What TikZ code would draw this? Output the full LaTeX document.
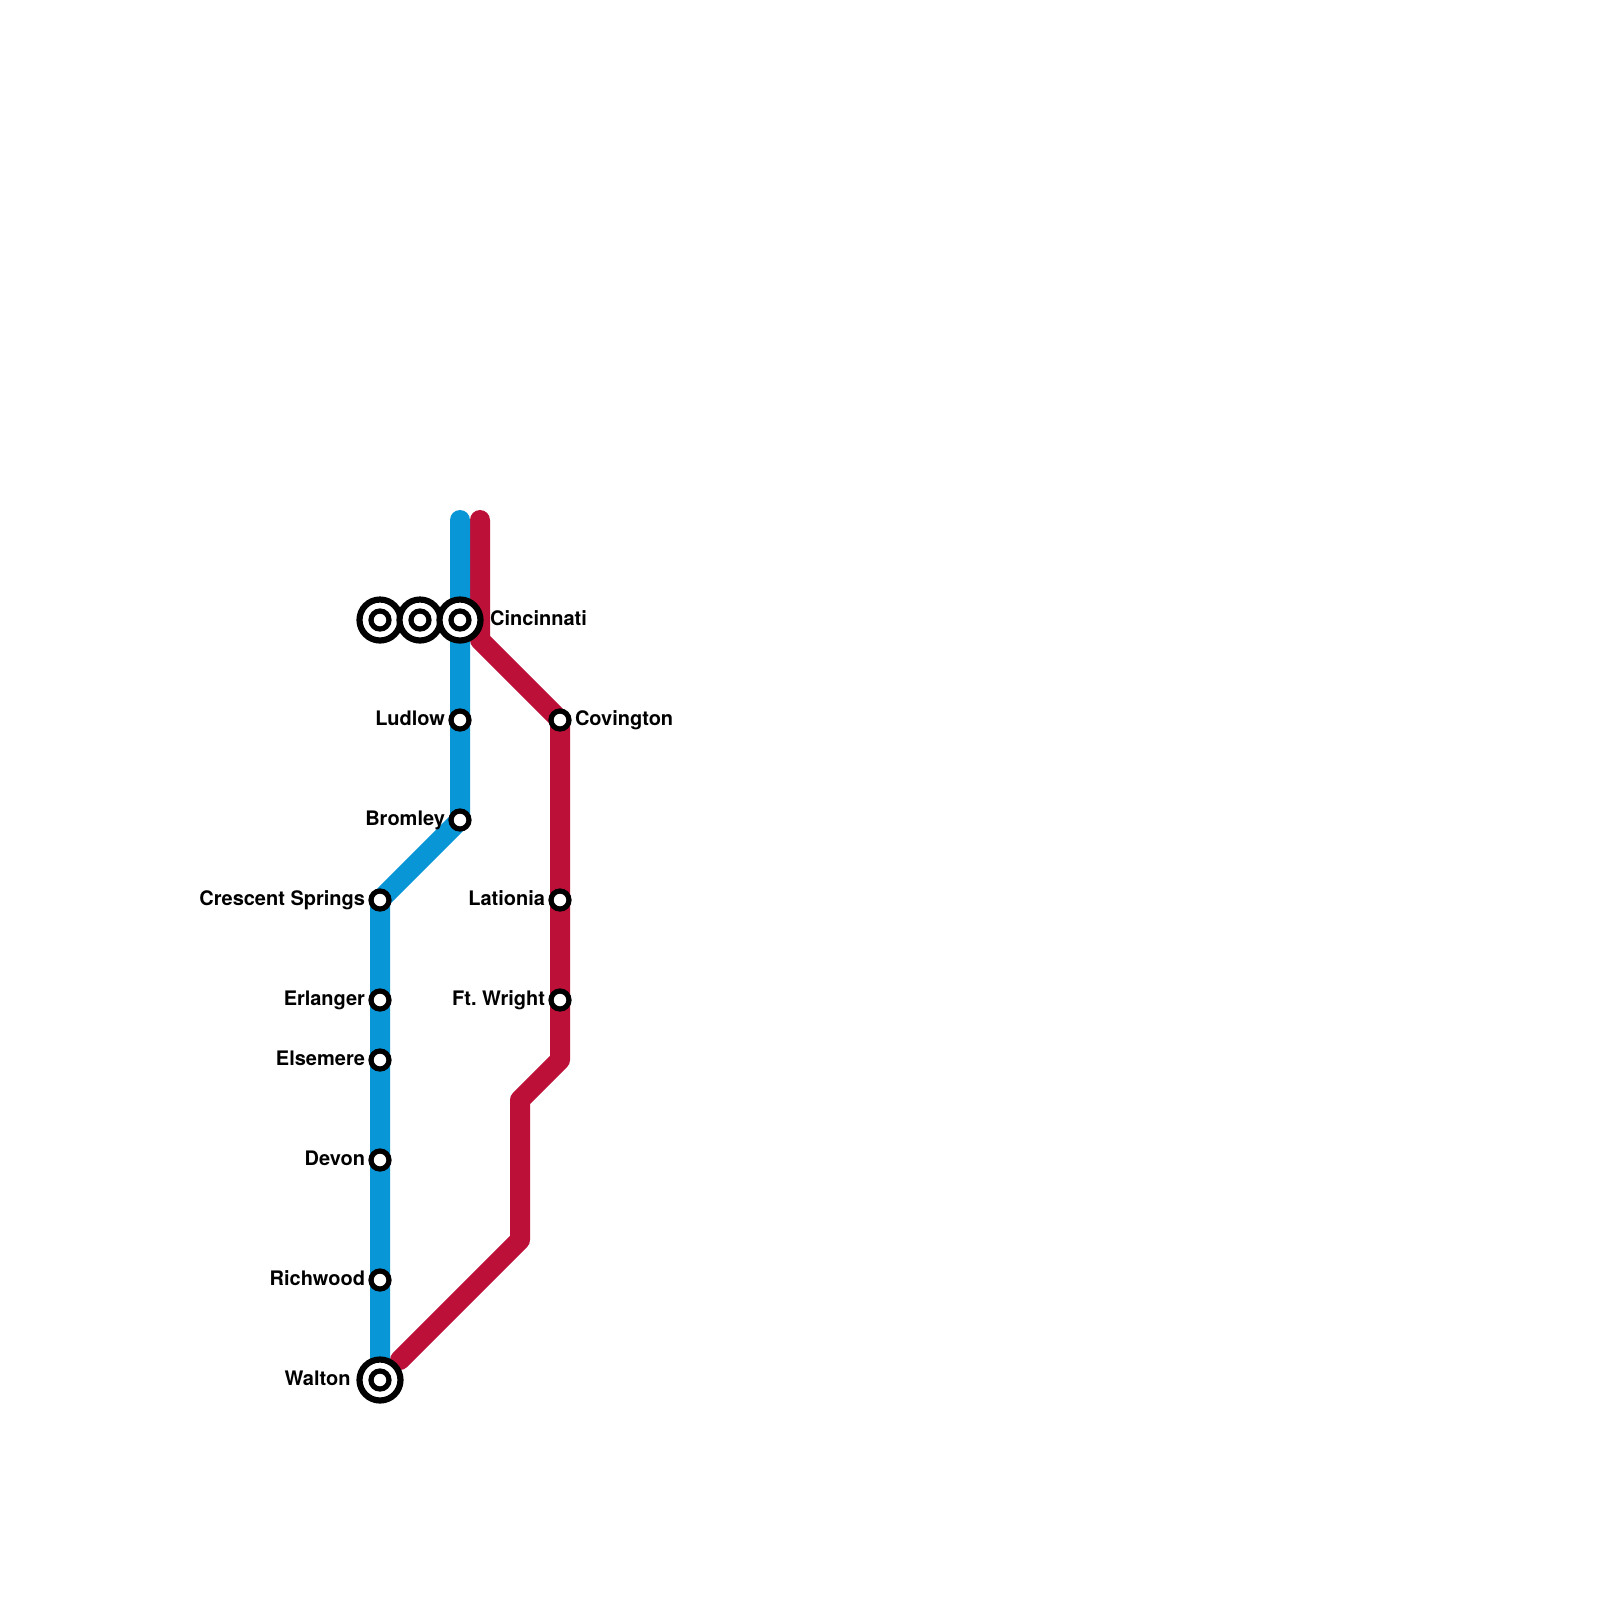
\documentclass[tikz,border=0pt]{standalone}
\usepackage{fontspec}
\setmainfont{TeX Gyre Heros}
\definecolor{lineblue}{HTML}{0896D7}
\definecolor{linered}{HTML}{BD1038}
\usetikzlibrary{positioning,backgrounds}

\begin{document}
\begin{tikzpicture}[x=0.2cm,y=-0.2cm,font=\bfseries\fontsize{5.69pt}{6.8pt}\selectfont,
  node distance=0.06cm,
  stop/.style={draw=black,fill=white,circle,line width=0.052cm,minimum size=0.18cm,inner sep=0pt,outer sep=0pt},
  ring/.style={draw=black,fill=white,circle,line width=0.062cm,minimum size=0.41cm,inner sep=0pt,outer sep=0pt},
  lab/.style={inner sep=0pt,outer sep=0pt,text height=0.144cm,text depth=0pt,yshift=0.02cm},
  route/.style={line width=0.2cm,line cap=round,line join=round}]
\useasboundingbox (0,0) rectangle (80,80);
% interchange at the top
\node[ring] (cincyA) at (19,31) {};
\node[stop] (cincyAi) at (cincyA) {};
\node[ring] (cincyB) at (21,31) {};
\node[stop] (cincyBi) at (cincyB) {};
\node[ring] (cincy) at (23,31) {};
\node[stop] (cincyi) at (cincy) {};
\node[right=0.097cm of cincy,lab] (cincylab) {Cincinnati};
% blue stops
\node[stop] (ludlow) at (23,36) {};
\node[left=of ludlow,lab] (ludlowlab) {Ludlow};
\node[stop] (bromley) at (23,41) {};
\node[left=of bromley,lab] (bromleylab) {Bromley};
\node[stop] (crescent) at (19,45) {};
\node[left=of crescent,lab] (crescentlab) {Crescent Springs};
\node[stop] (erlanger) at (19,50) {};
\node[left=of erlanger,lab] (erlangerlab) {Erlanger};
\node[stop] (elsemere) at (19,53) {};
\node[left=of elsemere,lab] (elsemerelab) {Elsemere};
\node[stop] (devon) at (19,58) {};
\node[left=of devon,lab] (devonlab) {Devon};
\node[stop] (richwood) at (19,64) {};
\node[left=of richwood,lab] (richwoodlab) {Richwood};
\node[ring] (walton) at (19,69) {};
\node[stop] (waltoni) at (walton) {};
\node[left=0.09cm of walton,lab] (waltonlab) {Walton};
% red stops
\node[stop] (covington) at (28,36) {};
\node[right=of covington,lab] (covingtonlab) {Covington};
\node[stop] (latonia) at (28,45) {};
\node[left=of latonia,lab] (latonialab) {Lationia};
\node[stop] (wright) at (28,50) {};
\node[left=of wright,lab] (wrightlab) {Ft.\ Wright};
% bends
\coordinate (bluetop) at (23,26);
\coordinate (redtop) at (24,26);
\coordinate (redA) at (24,32);
\coordinate (redB) at (28,53);
\coordinate (redC) at (26,55);
\coordinate (redD) at (26,62);
\coordinate (redE) at (20,68);
\begin{scope}[on background layer]
\draw[route,linered] (redtop) -- (redA) -- (covington.center) -- (latonia.center) -- (wright.center) -- (redB) -- (redC) -- (redD) -- (redE);
\draw[route,lineblue] (bluetop) -- (cincy.center) -- (ludlow.center) -- (bromley.center) -- (crescent.center) -- (erlanger.center) -- (elsemere.center) -- (devon.center) -- (richwood.center) -- (walton.center);
\end{scope}
\end{tikzpicture}
\end{document}
